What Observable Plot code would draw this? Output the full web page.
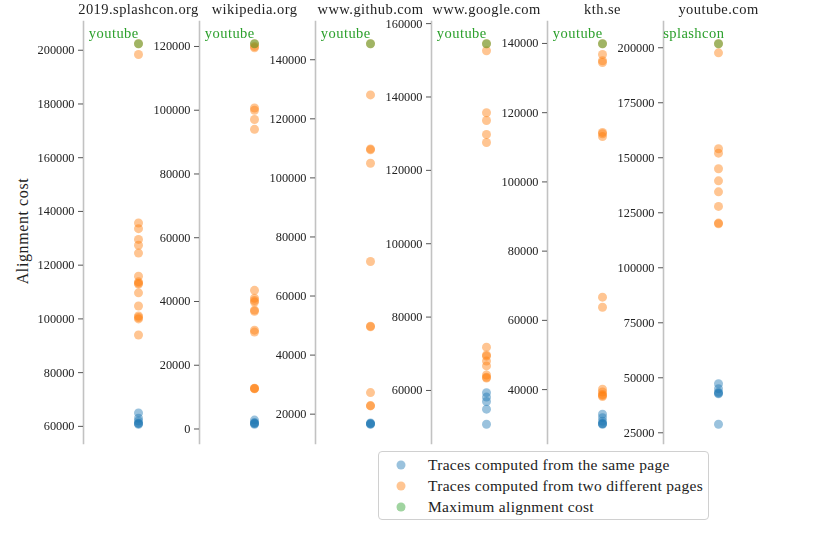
<!DOCTYPE html>
<html>
<head>
<meta charset="utf-8">
<script src="https://cdn.jsdelivr.net/npm/d3@7"></script>
<script src="https://cdn.jsdelivr.net/npm/@observablehq/plot@0.6"></script>
<style>
  body { margin: 0; background: white; }
  #chart { position: relative; width: 830px; height: 554px; font-family: "Liberation Serif", serif; color: #222; }
  .panel { position: absolute; top: 0; will-change: transform; }
  .panel g[aria-label="text"] text { letter-spacing: 0.45px; }
  .ylabel { position: absolute; left: 23px; top: 231px; transform: translate(-50%, -50%) rotate(-90deg); font-size: 16px; letter-spacing: 0.6px; white-space: nowrap; }
  .legend { position: absolute; left: 378px; top: 451px; width: 331px; height: 69px; border: 1px solid #d0d0d0; border-radius: 4px; box-sizing: border-box; }
  .legend .dot { position: absolute; width: 9px; height: 9px; border-radius: 50%; transform: translate(-50%, -50%); }
  .legend .lab { position: absolute; transform: translateY(-50%); font-size: 15.5px; letter-spacing: 0.3px; white-space: nowrap; }
</style>
</head>
<body>
<div id="chart">
  <div class="ylabel">Alignment cost</div>
</div>
<script>
// ---- data ----
const sites = ["2019.splashcon.org", "wikipedia.org", "www.github.com", "www.google.com", "kth.se", "youtube.com"];
const maxLabels = ["youtube", "youtube", "youtube", "youtube", "youtube", "splashcon"];

const samePage = [
  [65000, 63000, 62000, 61200, 61000, 60800],
  [2800, 2000, 1800, 1700, 1500],
  [17000, 16800, 16700, 16600],
  [59400, 58200, 57000, 54900, 50800],
  [32900, 31900, 30850, 30200, 30100, 30000],
  [47300, 45000, 43450, 43000, 42700, 28900]
];
const diffPages = [
  [202400, 198400, 135700, 133600, 129600, 127400, 124500, 115900, 113800, 113300, 113000, 109700, 104800, 101100, 100500, 100000, 94000],
  [120840, 120000, 119600, 100700, 100000, 97100, 94000, 43500, 41000, 40300, 39800, 37300, 36900, 31000, 30400, 12800, 12700, 12600],
  [145400, 128100, 109800, 109500, 104950, 71700, 49800, 49600, 27300, 22900, 22800],
  [154500, 152600, 135700, 133600, 129800, 127600, 71800, 69700, 69350, 68000, 66700, 64200, 63600, 63400],
  [139900, 136800, 135000, 134500, 114300, 113900, 113100, 66700, 63800, 40100, 39300, 38600, 38300, 38000],
  [201800, 197700, 154100, 152100, 145000, 139500, 134500, 127900, 120300, 120000]
];
const maxCost = [202400, 120840, 145400, 154500, 139900, 201800];

const yTicks = [
  [60000, 80000, 100000, 120000, 140000, 160000, 180000, 200000],
  [0, 20000, 40000, 60000, 80000, 100000, 120000],
  [20000, 40000, 60000, 80000, 100000, 120000, 140000],
  [60000, 80000, 100000, 120000, 140000, 160000],
  [40000, 60000, 80000, 100000, 120000, 140000],
  [25000, 50000, 75000, 100000, 125000, 150000, 175000, 200000]
];

const seriesColors = ["#1f77b4", "#ff7f0e", "#2ca02c"];
const seriesNames = ["Traces computed from the same page", "Traces computed from two different pages", "Maximum alignment cost"];

// ---- layout ----
const chart = document.getElementById("chart");
const firstSpine = 83, spineStep = 115.9, panelW = 110, mLeft = 70;

sites.forEach((site, i) => {
  const all = samePage[i].concat(diffPages[i], [maxCost[i]]);
  const lo = d3.min(all), hi = d3.max(all), span = hi - lo;
  const plot = Plot.plot({
    width: mLeft + panelW,
    height: 443,
    marginTop: 21,
    marginBottom: 0,
    marginLeft: mLeft,
    marginRight: 0,
    style: { background: "transparent", overflow: "visible", fontFamily: "Liberation Serif, serif", color: "#222" },
    x: { domain: [-1, 1], axis: null },
    y: { domain: [lo - span * 0.0507, hi + span * 0.0586], axis: null },
    marks: [
      Plot.frame({ anchor: "left", stroke: "#c2c2c2", strokeWidth: 1.6 }),
      Plot.axisY({ ticks: yTicks[i], tickSize: 5, tickPadding: 4, tickFormat: d => String(d), fontSize: 12.3, stroke: "#555", fill: "#222", label: null }),
      Plot.dot(samePage[i], { x: () => 0, y: d => d, r: 4.5, fill: seriesColors[0], fillOpacity: 0.45 }),
      Plot.dot(diffPages[i], { x: () => 0, y: d => d, r: 4.5, fill: seriesColors[1], fillOpacity: 0.45 }),
      Plot.dot([maxCost[i]], { x: () => 0, y: d => d, r: 4.5, fill: seriesColors[2], fillOpacity: 0.45 }),
      Plot.text([maxLabels[i]], { x: () => -0.45, y: () => maxCost[i], text: d => d, textAnchor: "middle", lineAnchor: "bottom", dy: -5.6, fill: "#2ca02c", fontSize: 14.5 }),
      Plot.text([site], { frameAnchor: "top", text: d => d, lineAnchor: "bottom", dy: -7.7, fill: "#222", fontSize: 14.5 })
    ]
  });
  const wrap = document.createElement("div");
  wrap.className = "panel";
  wrap.style.left = Math.round(firstSpine + spineStep * i - mLeft) + "px";
  wrap.appendChild(plot);
  chart.appendChild(wrap);
});

// ---- legend ----
const legend = document.createElement("div");
legend.className = "legend";
const rowsY = [12.5, 33.5, 55];
seriesNames.forEach((name, k) => {
  const dot = document.createElement("span");
  dot.className = "dot";
  dot.style.left = "22px";
  dot.style.top = rowsY[k] + "px";
  dot.style.background = seriesColors[k];
  dot.style.opacity = 0.45;
  legend.appendChild(dot);
  const lab = document.createElement("span");
  lab.className = "lab";
  lab.style.left = "49px";
  lab.style.top = rowsY[k] + "px";
  lab.textContent = name;
  legend.appendChild(lab);
});
chart.appendChild(legend);
</script>
</body>
</html>
